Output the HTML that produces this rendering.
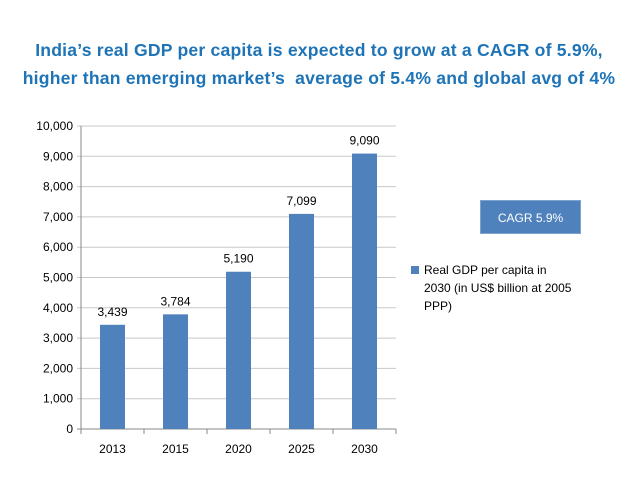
<!DOCTYPE html>
<html><head><meta charset="utf-8"><style>
body{margin:0;background:#fff;width:638px;height:479px;overflow:hidden;font-family:"Liberation Sans",sans-serif}
.t{position:absolute;left:0;width:638px;text-align:center;color:#1E74B6;font-weight:bold;font-size:17.6px;letter-spacing:0.2px;white-space:nowrap}
</style></head><body>
<div class="t" style="top:40px">India’s real GDP per capita is expected to grow at a CAGR of 5.9%,</div>
<div class="t" style="top:68px">higher than emerging market’s&nbsp; average of 5.4% and global avg of 4%</div>
<svg id="c" width="638" height="479" style="position:absolute;left:0;top:0"></svg>
<script>
const categories=["2013","2015","2020","2025","2030"];
const values=[3439,3784,5190,7099,9090];
const yTicks=[0,1000,2000,3000,4000,5000,6000,7000,8000,9000,10000];
const svg=document.getElementById('c');const NS="http://www.w3.org/2000/svg";
const X0=81,X1=396,Y0=429,Y1=126;
const y=v=>Y0-(v/10000)*(Y0-Y1);
const band=(X1-X0)/categories.length;
const x=i=>X0+band*(i+0.5);
function mk(t,a,txt){const e=document.createElementNS(NS,t);for(const k in a)e.setAttribute(k,a[k]);if(txt!=null)e.textContent=txt;svg.appendChild(e);return e;}
yTicks.forEach(v=>{
 const g=mk('line',{x1:X0-4,x2:X1,y1:y(v),y2:y(v),stroke:v===0?'#888':'#c8c8c8','stroke-width':1});
 
 
 const t=mk('text',{x:X0-8,y:y(v)+4,'text-anchor':'end','font-size':12,fill:'#000','font-family':'Liberation Sans, sans-serif'},v.toLocaleString('en-US'));
 
 
});
const ax=mk('line',{x1:X0,x2:X0,y1:Y1,y2:Y0,stroke:'#888'});


for(let i=0;i<=categories.length;i++){const tk=mk('line',{x1:X0+band*i,x2:X0+band*i,y1:Y0,y2:Y0+5,stroke:'#888'});
 
 }
categories.forEach((c,i)=>{
 const b=mk('rect',{x:x(i)-12.5,y:y(values[i]),width:25,height:Y0-y(values[i]),fill:'#4F81BD'});
 
 
 const l=mk('text',{x:x(i),y:y(values[i])-9,'text-anchor':'middle','font-size':12,fill:'#000','font-family':'Liberation Sans, sans-serif'},values[i].toLocaleString('en-US'));
 
 
 const xl=mk('text',{x:x(i),y:Y0+24,'text-anchor':'middle','font-size':12,fill:'#000','font-family':'Liberation Sans, sans-serif'},c);
 
 
});
</script>
<div style="position:absolute;left:480px;top:200px;width:101px;height:34px;background:#4F81BD;border:1px solid #7fa3cf;color:#fff;font-size:12px;line-height:34px;text-align:center;box-sizing:border-box">CAGR 5.9%</div>
<div style="position:absolute;left:411px;top:261px;font-size:12px;line-height:18px;color:#000">
<span style="position:absolute;left:0;top:5px;width:8px;height:8px;background:#4F81BD"></span>
<div style="margin-left:13px;width:150px">Real GDP per capita in 2030 (in US$ billion at 2005 PPP)</div></div>
</body></html>
